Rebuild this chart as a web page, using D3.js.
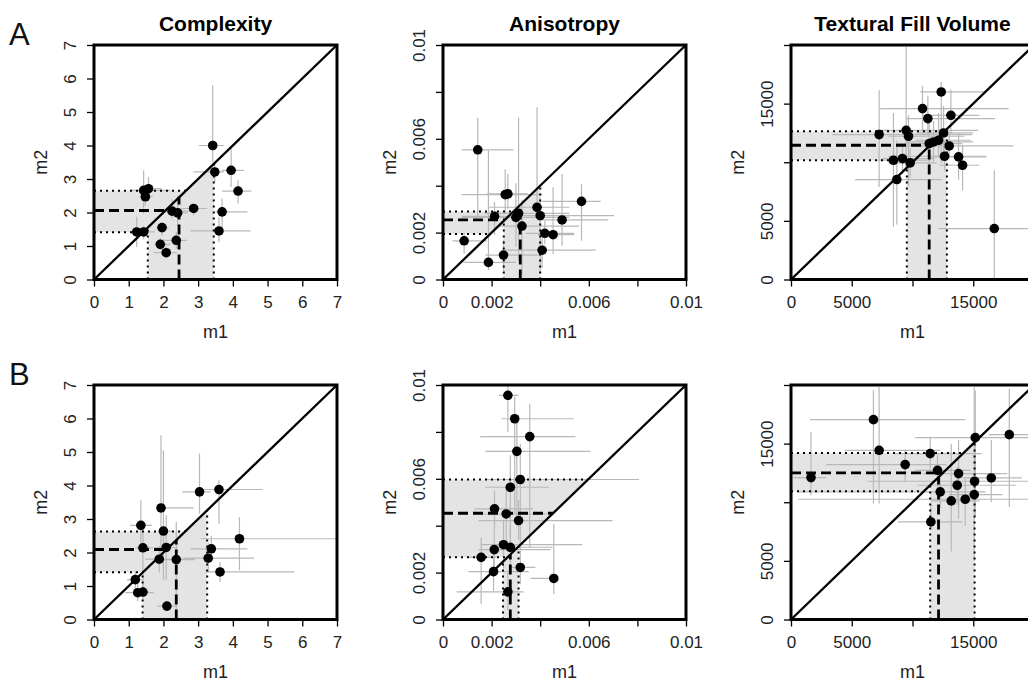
<!DOCTYPE html>
<html>
<head>
<meta charset="utf-8">
<script src="https://cdn.jsdelivr.net/npm/d3@7"></script>
<style>
  body { margin: 0; background: #fff; }
  svg { display: block; font-family: "Liberation Sans", Arial, sans-serif; }
</style>
</head>
<body>
<div class="chart-area"></div>
<script>
// rows: [m1, m2, m1 low, m1 high, m2 low, m2 high]
const complexityA = [
  [3.42, 4.00, 3.02, 3.74, 3.50, 5.80],
  [3.48, 3.21, 2.87, 3.74, 2.90, 3.50],
  [3.95, 3.26, 3.69, 4.32, 2.76, 3.90],
  [4.15, 2.64, 3.69, 4.53, 2.27, 2.96],
  [3.69, 2.02, 3.50, 4.42, 1.57, 2.42],
  [3.60, 1.45, 2.78, 4.51, 1.12, 1.87],
  [2.87, 2.12, 2.49, 3.26, 1.92, 2.22],
  [2.25, 2.04, 1.86, 2.78, 1.82, 2.39],
  [2.41, 1.99, 2.10, 2.70, 1.60, 2.50],
  [2.37, 1.17, 1.96, 2.68, 0.92, 1.42],
  [2.08, 0.80, 1.72, 2.39, 0.65, 1.00],
  [1.91, 1.05, 1.75, 2.20, 0.90, 1.25],
  [1.96, 1.55, 1.80, 2.15, 1.30, 1.70],
  [1.23, 1.42, 1.05, 1.50, 0.97, 1.87],
  [1.43, 1.42, 1.15, 1.75, 1.20, 1.60],
  [1.43, 2.66, 1.04, 2.20, 1.97, 3.26],
  [1.57, 2.71, 1.35, 1.95, 2.37, 3.06],
  [1.48, 2.47, 1.30, 1.70, 2.20, 2.70]
];
const anisotropyA = [
  [0.00143, 0.00553, 0.00077, 0.00290, 0.00265, 0.00690],
  [0.00256, 0.00362, 0.00077, 0.00408, 0.00280, 0.00470],
  [0.00267, 0.00365, 0.00180, 0.00350, 0.00300, 0.00450],
  [0.00570, 0.00333, 0.00408, 0.00649, 0.00165, 0.00407],
  [0.00387, 0.00308, 0.00190, 0.00520, 0.00280, 0.00735],
  [0.00400, 0.00272, 0.00304, 0.00704, 0.00030, 0.00350],
  [0.00311, 0.00282, 0.00170, 0.00520, 0.00080, 0.00690],
  [0.00300, 0.00265, 0.00077, 0.00520, 0.00140, 0.00410],
  [0.00212, 0.00269, 0.00077, 0.00290, 0.00190, 0.00330],
  [0.00490, 0.00254, 0.00390, 0.00680, 0.00144, 0.00450],
  [0.00325, 0.00228, 0.00230, 0.00560, 0.00020, 0.00340],
  [0.00419, 0.00197, 0.00340, 0.00540, 0.00150, 0.00250],
  [0.00453, 0.00191, 0.00390, 0.00540, 0.00108, 0.00393],
  [0.00087, 0.00165, 0.00039, 0.00180, 0.00110, 0.00200],
  [0.00249, 0.00104, 0.00174, 0.00400, 0.00037, 0.00170],
  [0.00408, 0.00125, 0.00256, 0.00628, 0.00050, 0.00180],
  [0.00187, 0.00073, 0.00084, 0.00300, 0.00040, 0.00550]
];
const textureA = [
  [12363, 15995, 10632, 15989, 9886, 16847],
  [10824, 14574, 7335, 17912, 12500, 16500],
  [11264, 13722, 9500, 16800, 12300, 15700],
  [13159, 14006, 10800, 15500, 12400, 16200],
  [7253, 12358, 3400, 14900, 7897, 16136],
  [9478, 12727, 7000, 15400, 9318, 19830],
  [9670, 12216, 8000, 14300, 8000, 14000],
  [12555, 12500, 10300, 15000, 10200, 14800],
  [11374, 11591, 8700, 14100, 9200, 13400],
  [11730, 11733, 9500, 15000, 10000, 13500],
  [12143, 11875, 10300, 14800, 10500, 14200],
  [13022, 11392, 9500, 18300, 10300, 12600],
  [12637, 10511, 8000, 16000, 9300, 11800],
  [13791, 10455, 11500, 16100, 8500, 12500],
  [14120, 9744, 12200, 15500, 7600, 11500],
  [8434, 10170, 7000, 11500, 4500, 14200],
  [9176, 10312, 7500, 11800, 9000, 11600],
  [9808, 9943, 8000, 12000, 8700, 11200],
  [8709, 8523, 5275, 12418, 4700, 11800],
  [16731, 4347, 12143, 21000, 85, 9318]
];
const complexityB = [
  [3.04, 3.81, 2.54, 3.36, 3.16, 4.95],
  [3.60, 3.88, 3.07, 4.85, 2.86, 4.16],
  [1.93, 3.33, 1.81, 2.87, 1.77, 5.50],
  [2.00, 2.64, 1.85, 2.25, 1.17, 5.05],
  [1.35, 2.81, 1.04, 1.67, 2.17, 3.56],
  [4.19, 2.41, 3.07, 7.00, 1.47, 3.06],
  [1.41, 2.14, 1.20, 1.70, 0.97, 2.76],
  [2.08, 2.15, 1.75, 2.40, 1.17, 3.11],
  [3.38, 2.11, 2.78, 4.42, 1.80, 2.50],
  [1.88, 1.80, 1.48, 2.92, 1.40, 2.20],
  [2.37, 1.79, 2.00, 2.90, 0.08, 2.91],
  [3.29, 1.83, 2.58, 4.61, 1.40, 2.30],
  [3.63, 1.42, 3.21, 5.77, 1.12, 1.72],
  [1.19, 1.19, 0.95, 1.40, 0.80, 1.45],
  [1.26, 0.80, 0.90, 1.72, 0.55, 1.15],
  [1.41, 0.82, 1.20, 1.60, 0.60, 1.05],
  [2.10, 0.40, 1.81, 2.39, 0.30, 0.55]
];
const anisotropyB = [
  [0.00267, 0.00956, 0.00230, 0.00310, 0.00800, 0.01000],
  [0.00295, 0.00856, 0.00240, 0.00539, 0.00450, 0.00950],
  [0.00357, 0.00780, 0.00153, 0.00545, 0.00308, 0.00920],
  [0.00304, 0.00717, 0.00174, 0.00607, 0.00400, 0.00850],
  [0.00318, 0.00597, 0.00174, 0.00807, 0.00300, 0.00750],
  [0.00277, 0.00564, 0.00174, 0.00435, 0.00350, 0.00700],
  [0.00212, 0.00472, 0.00130, 0.00370, 0.00390, 0.00550],
  [0.00260, 0.00450, 0.00150, 0.00430, 0.00330, 0.00570],
  [0.00311, 0.00422, 0.00146, 0.00697, 0.00340, 0.00510],
  [0.00249, 0.00319, 0.00160, 0.00573, 0.00220, 0.00420],
  [0.00277, 0.00308, 0.00200, 0.00450, 0.00200, 0.00400],
  [0.00211, 0.00298, 0.00146, 0.00442, 0.00210, 0.00390],
  [0.00157, 0.00265, 0.00100, 0.00220, 0.00066, 0.00350],
  [0.00318, 0.00222, 0.00280, 0.00380, 0.00150, 0.00300],
  [0.00208, 0.00204, 0.00105, 0.00353, 0.00120, 0.00290],
  [0.00456, 0.00175, 0.00360, 0.00460, 0.00108, 0.00407],
  [0.00267, 0.00118, 0.00056, 0.00332, 0.00040, 0.00200]
];
const textureB = [
  [6786, 17045, 1566, 14341, 9886, 19545],
  [17967, 15767, 16300, 19500, 9602, 19688],
  [15165, 15511, 10220, 19560, 8800, 19500],
  [7253, 14432, 4451, 12280, 9886, 19830],
  [11456, 14148, 8500, 15700, 12500, 15600],
  [9396, 13210, 2900, 12800, 11800, 14500],
  [12060, 12727, 10200, 14800, 10600, 14000],
  [13791, 12443, 10900, 17800, 8600, 15300],
  [1648, 12102, 200, 2900, 10597, 15994],
  [16484, 12074, 14100, 19000, 10000, 15300],
  [15110, 11790, 6300, 19800, 9500, 13700],
  [13681, 11449, 10400, 18500, 9800, 13000],
  [12280, 10881, 600, 16000, 9500, 12200],
  [15082, 10653, 13000, 17400, 5000, 19800],
  [14340, 10256, 600, 19500, 8000, 12000],
  [13187, 10114, 11500, 15500, 5800, 15000],
  [11511, 8324, 8800, 14100, 7700, 9900]
];

// [low, mean, high] of m1 and of m2
const bandsComplexityA = { m1: [1.55, 2.45, 3.45], m2: [1.41, 2.06, 2.65] };
const bandsAnisotropyA = { m1: [0.0025, 0.00318, 0.0040], m2: [0.00194, 0.00254, 0.0029] };
const bandsTextureA    = { m1: [9533, 11374, 12830], m2: [10170, 11449, 12642] };
const bandsComplexityB = { m1: [1.40, 2.37, 3.26], m2: [1.41, 2.09, 2.63] };
const bandsAnisotropyB = { m1: [0.00247, 0.00277, 0.00311], m2: [0.00265, 0.00453, 0.00597] };
const bandsTextureB    = { m1: [11456, 12143, 15110], m2: [10938, 12500, 14205] };

const titles = ["Complexity", "Anisotropy", "Textural Fill Volume"];
const rowLetters = ["A", "B"];
const axisMax = [7, 0.01, 20000];
const tickValues = [
  [0, 1, 2, 3, 4, 5, 6, 7],
  [0, 0.002, 0.004, 0.006, 0.008, 0.01],
  [0, 5000, 10000, 15000, 20000]
];
const labelledTicks = [
  [0, 1, 2, 3, 4, 5, 6, 7],
  [0, 0.002, 0.006, 0.01],
  [0, 5000, 15000]
];

const panels = [
  [complexityA, bandsComplexityA], [anisotropyA, bandsAnisotropyA], [textureA, bandsTextureA],
  [complexityB, bandsComplexityB], [anisotropyB, bandsAnisotropyB], [textureB, bandsTextureB]
];

const width = 1028, height = 681;
const colLeft = [94, 443, 791], rowTop = [45, 385];
const pw = 243, ph = 234.5;

const svg = d3.select(".chart-area").append("svg")
  .attr("width", width).attr("height", height);

panels.forEach((p, i) => {
  const r = Math.floor(i / 3), c = i % 3;
  const pts = p[0], bands = p[1];
  const L = colLeft[c], T = rowTop[r], B = T + ph;
  const max = axisMax[c];
  const x = d3.scaleLinear().domain([0, max]).range([L, L + pw]);
  const y = d3.scaleLinear().domain([0, max]).range([B, T]);

  const clipId = "clip" + i;
  svg.append("clipPath").attr("id", clipId)
    .append("rect").attr("x", L).attr("y", T).attr("width", pw).attr("height", ph);
  const g = svg.append("g").attr("clip-path", `url(#${clipId})`);

  // shaded bands, cut at the diagonal
  const lo2 = bands.m2[0], hi2 = bands.m2[2];
  const lo1 = bands.m1[0], hi1 = bands.m1[2];
  const line = d3.line().x(d => x(d[0])).y(d => y(d[1]));
  g.append("path")
    .attr("d", line([[0, lo2], [lo2, lo2], [hi2, hi2], [0, hi2]]) + "Z")
    .attr("fill", "#e4e4e4");
  g.append("path")
    .attr("d", line([[lo1, 0], [hi1, 0], [hi1, hi1], [lo1, lo1]]) + "Z")
    .attr("fill", "#e4e4e4");

  // error bars
  g.selectAll(".xerr").data(pts).enter().append("line")
    .attr("x1", d => x(d[2])).attr("x2", d => x(d[3]))
    .attr("y1", d => y(d[1])).attr("y2", d => y(d[1]))
    .attr("stroke", "#b8b8b8").attr("stroke-width", 1.2);
  g.selectAll(".yerr").data(pts).enter().append("line")
    .attr("x1", d => x(d[0])).attr("x2", d => x(d[0]))
    .attr("y1", d => y(d[4])).attr("y2", d => y(d[5]))
    .attr("stroke", "#b8b8b8").attr("stroke-width", 1.2);

  // band edges (dotted) and means (dashed)
  bands.m2.forEach((v, k) => {
    g.append("line")
      .attr("x1", x(0)).attr("x2", x(v)).attr("y1", y(v)).attr("y2", y(v))
      .attr("stroke", "#000")
      .attr("stroke-width", k === 1 ? 2.8 : 2)
      .attr("stroke-dasharray", k === 1 ? "10,5" : "2,4");
  });
  bands.m1.forEach((v, k) => {
    g.append("line")
      .attr("x1", x(v)).attr("x2", x(v)).attr("y1", y(0)).attr("y2", y(v))
      .attr("stroke", "#000")
      .attr("stroke-width", k === 1 ? 2.8 : 2)
      .attr("stroke-dasharray", k === 1 ? "10,5" : "2,4");
  });

  // identity line
  g.append("line")
    .attr("x1", x(0)).attr("y1", y(0)).attr("x2", x(max)).attr("y2", y(max))
    .attr("stroke", "#000").attr("stroke-width", 2.3);

  // points
  g.selectAll(".pt").data(pts).enter().append("circle")
    .attr("cx", d => x(d[0])).attr("cy", d => y(d[1])).attr("r", 4.8)
    .attr("fill", "#000");

  // axes
  const fmt = d => labelledTicks[c].includes(d) ? String(d) : "";
  const xa = svg.append("g").attr("transform", `translate(0,${B})`)
    .call(d3.axisBottom(x).tickValues(tickValues[c]).tickFormat(fmt).tickSize(7).tickPadding(9));
  const ya = svg.append("g").attr("transform", `translate(${L},0)`)
    .call(d3.axisLeft(y).tickValues(tickValues[c]).tickFormat(fmt).tickSize(7));
  [xa, ya].forEach(a => {
    a.select(".domain").remove();
    a.selectAll("line").attr("stroke", "#000").attr("stroke-width", 1.3);
    a.selectAll("text").attr("font-size", 17).attr("fill", "#222")
      .attr("font-family", "'Liberation Sans', Arial, sans-serif");
  });
  ya.selectAll("text")
    .attr("x", 0).attr("dy", 0).attr("text-anchor", "middle")
    .attr("transform", "translate(-18,0) rotate(-90)");

  // box
  svg.append("rect")
    .attr("x", L).attr("y", T).attr("width", pw).attr("height", ph)
    .attr("fill", "none").attr("stroke", "#000").attr("stroke-width", 3);

  // axis titles
  svg.append("text").attr("x", L + pw / 2).attr("y", B + 58.5)
    .attr("text-anchor", "middle").attr("font-size", 18).attr("fill", "#222").text("m1");
  svg.append("text")
    .attr("transform", `translate(${L - 47},${T + ph / 2}) rotate(-90)`)
    .attr("text-anchor", "middle").attr("font-size", 18).attr("fill", "#222").text("m2");

  if (r === 0) {
    svg.append("text").attr("x", L + pw / 2).attr("y", 31)
      .attr("text-anchor", "middle").attr("font-size", 21).attr("font-weight", "bold")
      .attr("fill", "#000").text(titles[c]);
  }
});

rowLetters.forEach((t, r) => {
  svg.append("text").attr("x", 9).attr("y", rowTop[r])
    .attr("font-size", 31).attr("fill", "#111").text(t);
});
</script>
</body>
</html>
